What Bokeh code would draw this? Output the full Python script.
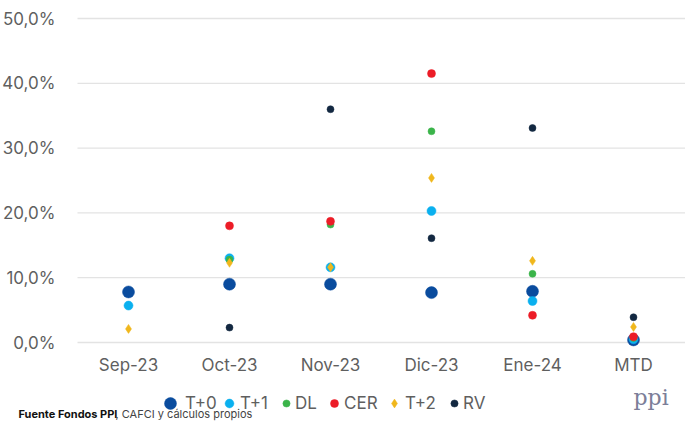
from bokeh.plotting import figure
from bokeh.models import (Range1d, Legend, LegendItem, Label,
                          CustomJSTickFormatter, FixedTicker)
from bokeh.embed import file_html
from bokeh.resources import INLINE

categories = ["Sep-23", "Oct-23", "Nov-23", "Dic-23", "Ene-24", "MTD"]

t0 = [7.8, 9.0, 9.0, 7.7, 7.9, 0.4]
t1 = [5.7, 13.0, 11.6, 20.3, 6.4, 0.5]
dl = [None, 12.8, 18.2, 32.6, 10.6, 0.7]
cer = [None, 18.0, 18.7, 41.5, 4.2, 0.9]
t2 = [2.1, 12.3, 11.6, 25.4, 12.6, 2.4]
rv = [None, 2.3, 36.0, 16.1, 33.1, 3.9]

y_ticks = [0, 10, 20, 30, 40, 50]

series = [
    ("T+0", t0, "#0a4c9e", "circle", 12),
    ("T+1", t1, "#0ab0ef", "circle", 9),
    ("DL", dl, "#3bb44a", "circle", 7),
    ("CER", cer, "#ec1c27", "circle", 8),
    ("T+2", t2, "#f0b71c", "diamond", 9),
    ("RV", rv, "#132841", "circle", 7),
]

# legend layout: (marker centre x, label start x) in pixels
legend_pos = [(170, 180), (229, 239), (286, 295), (334, 343), (394, 404), (454, 463)]

FONT = "Inter"
GRAY = "#5f5f5f"

W, H = 685, 421
PX_X = 101.0           # pixels per category
X0 = 128.0             # pixel of first category
PX_Y = 6.48            # pixels per percentage point
Y_TOP = 18.0           # pixel of 50%
x_start = -X0 / PX_X
x_end = x_start + W / PX_X
y_end = 50 + Y_TOP / PX_Y
y_start = y_end - H / PX_Y
axis_x = -0.505        # left edge of the plotting band

xpos = list(range(len(categories)))

p = figure(width=W, height=H, x_range=Range1d(x_start, x_end),
           y_range=Range1d(y_start, y_end), output_backend="svg",
           toolbar_location=None, min_border=0,
           min_border_left=0, min_border_right=0, min_border_top=0,
           min_border_bottom=0)
p.outline_line_color = None
p.background_fill_color = "white"
p.border_fill_color = "white"
p.xgrid.grid_line_color = None
p.ygrid.grid_line_color = None

# horizontal gridlines over the plotting band
p.segment(x0=[axis_x] * len(y_ticks), x1=[x_end] * len(y_ticks),
          y0=y_ticks, y1=y_ticks, line_color="#e3e3e3", line_width=1.3)

p.yaxis.ticker = FixedTicker(ticks=y_ticks)
p.yaxis.formatter = CustomJSTickFormatter(code="return tick.toFixed(1).replace('.', ',') + '%';")
p.yaxis.fixed_location = axis_x
p.xaxis.ticker = FixedTicker(ticks=xpos)
p.xaxis.major_label_overrides = {i: c for i, c in zip(xpos, categories)}
p.xaxis.fixed_location = 0
for ax in (p.xaxis[0], p.yaxis[0]):
    ax.axis_line_color = None
    ax.major_tick_line_color = None
    ax.minor_tick_line_color = None
    ax.major_label_text_font = FONT
    ax.major_label_text_font_size = "17px"
    ax.major_label_text_color = GRAY
p.yaxis.major_label_standoff = 16
p.xaxis.major_label_standoff = 6

LEG_CY = 403
LEG_H = 30
for (name, vals, color, marker, size), (mx, tx) in zip(series, legend_pos):
    xs = [i for i, v in zip(xpos, vals) if v is not None]
    ys = [v for v in vals if v is not None]
    r = p.scatter(xs, ys, marker=marker, size=size, fill_color=color,
                  line_color=color, line_width=0.5)
    box = int(round(size / 0.4))
    leg = Legend(items=[LegendItem(label=name, renderers=[r])],
                 orientation="horizontal",
                 location=(mx - box / 2, H - LEG_CY - LEG_H / 2),
                 label_text_font=FONT, label_text_font_size="17px",
                 label_text_color=GRAY, border_line_color=None,
                 background_fill_alpha=0, padding=0, spacing=0,
                 glyph_width=box, glyph_height=LEG_H,
                 label_standoff=int(round(tx - (mx + box / 2))),
                 margin=0, label_height=LEG_H)
    p.add_layout(leg, "center")

p.add_layout(Label(x=18, y=1, x_units="screen", y_units="screen",
                   text="Fuente Fondos PPI", text_font=FONT,
                   text_font_style="bold", text_font_size="11px",
                   text_color="#111111"))
p.add_layout(Label(x=115, y=1, x_units="screen", y_units="screen",
                   text=", CAFCI y cálculos propios", text_font=FONT,
                   text_font_size="11px", text_color="#444444"))
p.add_layout(Label(x=633, y=12, x_units="screen", y_units="screen",
                   text="ppi", text_font="DejaVu Serif",
                   text_font_size="22px", text_color="#7b7e98"))

open("out.html", "w").write(file_html(p, INLINE))
